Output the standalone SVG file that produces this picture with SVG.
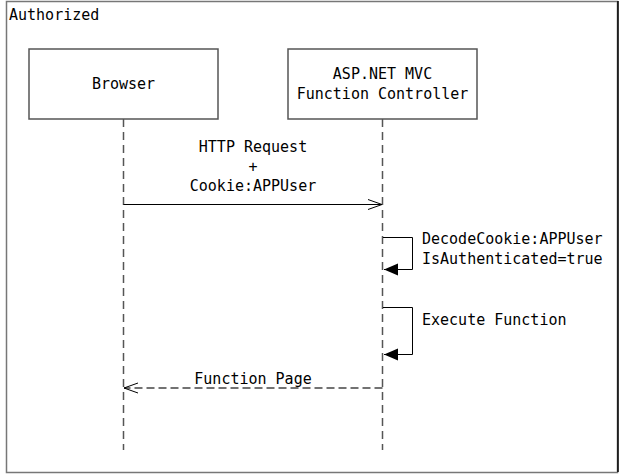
<svg xmlns="http://www.w3.org/2000/svg" width="620" height="474" viewBox="0 0 620 474">
<style>
text{font-family:"DejaVu Sans Mono","Liberation Mono",monospace;font-size:15px;fill:#000}
.box{fill:#fff;stroke:#555;stroke-width:1.5}
.life{stroke:#555;stroke-width:1.5;stroke-dasharray:8 5;fill:none}
.msg{stroke:#000;stroke-width:1;fill:none}
.ret{stroke:#444;stroke-width:1.5;stroke-dasharray:8 4;fill:none}
</style>
<defs>
<marker id="open" markerWidth="16" markerHeight="12" refX="15" refY="6" orient="auto" markerUnits="userSpaceOnUse">
<path d="M1,1 L15,6 L1,11" fill="none" stroke="#000" stroke-width="1"/>
</marker>
<marker id="fill" markerWidth="16" markerHeight="14" refX="15" refY="7" orient="auto" markerUnits="userSpaceOnUse">
<path d="M1,1 L15,7 L1,13 Z" fill="#000"/>
</marker>
</defs>
<rect width="620" height="474" fill="#fff"/>
<g id="frame">
<rect x="6.5" y="1.5" width="611" height="471" fill="none" stroke="#777" stroke-width="1.5"/>
<line x1="618" y1="1" x2="618" y2="472" stroke="#000" stroke-width="1.5"/>
<text x="9" y="20">Authorized</text>
</g>
<g id="connectors">
<line class="life" x1="123.5" y1="119" x2="123.5" y2="450"/>
<line class="life" x1="382.5" y1="119" x2="382.5" y2="450"/>
<line class="msg" x1="123.5" y1="204.5" x2="382" y2="204.5" marker-end="url(#open)"/>
<path class="msg" d="M383,237.5 H412.5 V269.5 H384" marker-end="url(#fill)"/>
<path class="msg" d="M383,307.5 H412.5 V354.5 H384" marker-end="url(#fill)"/>
<line class="ret" x1="382.5" y1="388" x2="124" y2="388" marker-end="url(#open)"/>
<text x="253" y="152" text-anchor="middle">HTTP Request</text>
<text x="253" y="172" text-anchor="middle">+</text>
<text x="253" y="191" text-anchor="middle">Cookie:APPUser</text>
<text x="422" y="244">DecodeCookie:APPUser</text>
<text x="422" y="264">IsAuthenticated=true</text>
<text x="422" y="325">Execute Function</text>
<text x="253" y="384" text-anchor="middle">Function Page</text>
</g>
<g id="browser">
<rect class="box" x="29" y="49" width="189" height="70"/>
<text x="123.5" y="89" text-anchor="middle">Browser</text>
</g>
<g id="controller">
<rect class="box" x="288" y="49" width="189" height="70"/>
<text x="382.5" y="79" text-anchor="middle">ASP.NET MVC</text>
<text x="382.5" y="99" text-anchor="middle">Function Controller</text>
</g>
</svg>
